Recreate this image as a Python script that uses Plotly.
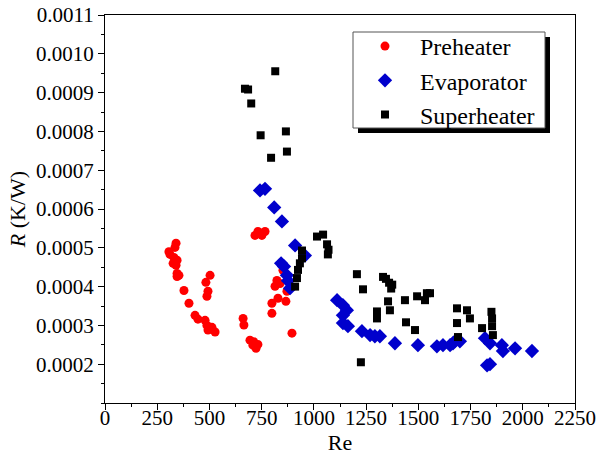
import plotly.graph_objects as go

# Thermal resistance R (K/W) versus Reynolds number for each heat-exchanger section
pre_re = [306, 311, 335, 340, 330, 345, 326, 340, 345, 345, 354,
          378, 402, 431, 445, 479, 488, 512, 493, 527,
          503, 483, 493, 488,
          661, 665,
          694, 708, 723, 732, 712,
          718, 732, 751, 766,
          852, 823, 814, 838, 871, 799, 828, 866, 799, 895]
pre_r = [0.000490, 0.000483, 0.000501, 0.000512, 0.000475, 0.000468, 0.000460, 0.000455, 0.000434, 0.000426, 0.000429,
         0.000390, 0.000357, 0.000326, 0.000316, 0.000313, 0.000300, 0.000295, 0.000288, 0.000283,
         0.000429, 0.000411, 0.000388, 0.000375,
         0.000318, 0.000301,
         0.000262, 0.000249, 0.000241, 0.000251, 0.000258,
         0.000532, 0.000542, 0.000532, 0.000542,
         0.000442, 0.000416, 0.000401, 0.000408, 0.000388, 0.000357, 0.000370, 0.000362, 0.000331, 0.000280]

evap_re = [742, 766, 810, 847, 910, 957,
           843, 857, 871, 886, 876,
           1111, 1139, 1158, 1139, 1139, 1163, 1230, 1269, 1292, 1316, 1388,
           1498, 1589, 1618, 1652, 1675, 1666, 1699, 1819, 1843, 1900, 1905, 1963, 2044,
           1829, 1843]
evap_r = [0.000648, 0.000652, 0.000604, 0.000568, 0.000506, 0.000480,
          0.000460, 0.000452, 0.000429, 0.000396, 0.000415,
          0.000365, 0.000352, 0.000339, 0.000326, 0.000306, 0.000298, 0.000285, 0.000275, 0.000272, 0.000272, 0.000254,
          0.000249, 0.000246, 0.000249, 0.000249, 0.000259, 0.000254, 0.000259, 0.000267, 0.000254, 0.000249, 0.000234, 0.000241, 0.000234,
          0.000197, 0.000200]

sup_re = [670, 685, 700, 745, 815, 866, 871, 795,
          910, 919, 924, 933, 943, 943, 1015, 1044, 1063, 1067, 1070,
          1206, 1235, 1225,
          1331, 1345, 1360, 1375, 1370, 1355, 1364, 1302, 1302,
          1436, 1441, 1484, 1494, 1541, 1556, 1532,
          1685, 1685, 1733, 1747, 1690, 1805, 1853, 1853, 1857, 1850]
sup_r = [0.000910, 0.000908, 0.000872, 0.000790, 0.000955, 0.000800, 0.000748, 0.000732,
         0.000400, 0.000422, 0.000443, 0.000460, 0.000473, 0.000493, 0.000529, 0.000534, 0.000509, 0.000483, 0.000495,
         0.000432, 0.000393, 0.000205,
         0.000425, 0.000420, 0.000410, 0.000405, 0.000395, 0.000362, 0.000339, 0.000336, 0.000318,
         0.000365, 0.000308, 0.000288, 0.000375, 0.000383, 0.000383, 0.000365,
         0.000344, 0.000306, 0.000339, 0.000318, 0.000270, 0.000293, 0.000318, 0.000298, 0.000275, 0.000335]

x_ticks = [0, 250, 500, 750, 1000, 1250, 1500, 1750, 2000, 2250]
y_ticks = [0.0002, 0.0003, 0.0004, 0.0005, 0.0006, 0.0007, 0.0008, 0.0009, 0.0010, 0.0011]
y_tick_text = ["0.0002", "0.0003", "0.0004", "0.0005", "0.0006",
               "0.0007", "0.0008", "0.0009", "0.0010", "0.0011"]

FONT = "Times New Roman, Liberation Serif, DejaVu Serif, serif"

# plot area in pixels
L, R, T, B = 105, 575, 15, 403
W, H = 597, 466
PW, PH = R - L, B - T


def px_x(p):
    return (p - L) / PW


def px_y(p):
    return (B - p) / PH


fig = go.Figure()
fig.add_trace(go.Scatter(x=pre_re, y=pre_r, mode="markers", name="Preheater",
                         marker=dict(symbol="circle", size=9, color="#ff0000")))
fig.add_trace(go.Scatter(x=evap_re, y=evap_r, mode="markers", name="Evaporator",
                         marker=dict(symbol="diamond", size=11, color="#0000cc")))
fig.add_trace(go.Scatter(x=sup_re, y=sup_r, mode="markers", name="Superheater",
                         marker=dict(symbol="square", size=8, color="#000000")))

# legend frame with drop shadow
fig.add_shape(type="rect", xref="paper", yref="paper",
              x0=px_x(358), x1=px_x(550), y0=px_y(133), y1=px_y(37),
              fillcolor="black", line=dict(width=0), layer="above")
fig.add_shape(type="rect", xref="paper", yref="paper",
              x0=px_x(353), x1=px_x(545), y0=px_y(128), y1=px_y(32),
              fillcolor="white", line=dict(width=1, color="#555555"), layer="above")

axis_common = dict(showgrid=False, zeroline=False, showline=True, linecolor="black",
                   linewidth=1, mirror=True, ticks="outside", ticklen=6, tickwidth=1,
                   tickcolor="black", automargin=False,
                   tickfont=dict(family=FONT, size=21, color="black"))

fig.update_xaxes(range=[0, 2250], tickvals=x_ticks, ticklabelstandoff=-10,
                 minor=dict(ticks="outside", ticklen=3, tickcolor="black", dtick=125, tick0=0),
                 title=dict(text="Re", font=dict(family=FONT, size=22, color="black"), standoff=4),
                 **axis_common)
fig.update_yaxes(range=[0.0001, 0.0011], tickvals=y_ticks, ticktext=y_tick_text,
                 minor=dict(ticks="outside", ticklen=3, tickcolor="black", dtick=0.00005, tick0=0.0001),
                 title=dict(text="<i>R</i> (K/W)", font=dict(family=FONT, size=22, color="black"), standoff=4),
                 **axis_common)

fig.update_layout(
    width=W, height=H,
    margin=dict(l=L, r=W - R, t=T, b=H - B),
    paper_bgcolor="white", plot_bgcolor="white",
    font=dict(family=FONT, color="black"),
    legend=dict(x=px_x(350), y=px_y(24), xanchor="left", yanchor="top",
                bgcolor="rgba(0,0,0,0)", borderwidth=0,
                font=dict(family=FONT, size=24, color="black"),
                itemwidth=60, tracegroupgap=0),
)

fig.write_html("out.html")
